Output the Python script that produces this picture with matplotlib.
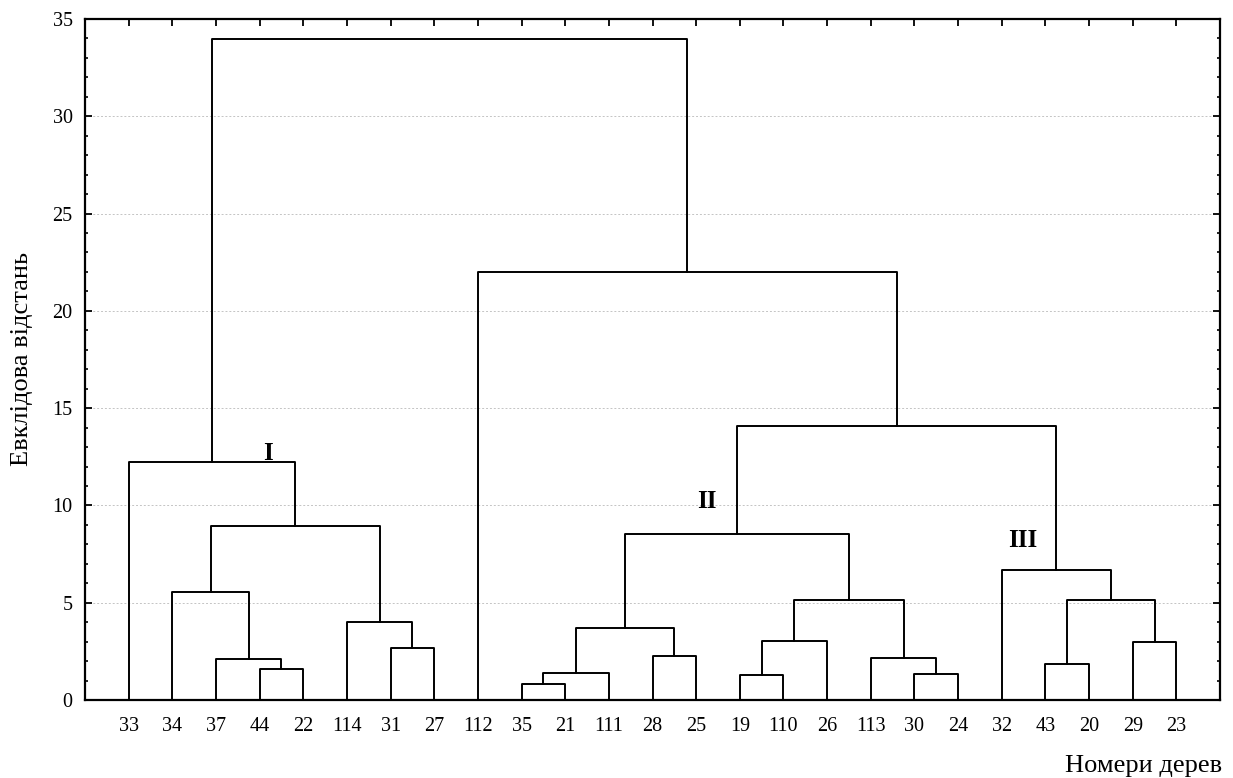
import matplotlib
matplotlib.use("Agg")
import matplotlib.pyplot as plt
from matplotlib.ticker import MultipleLocator

plt.rcParams['font.family'] = ['Liberation Serif', 'DejaVu Serif']

# leaf labels in plotted order
leaves = ["33", "34", "37", "44", "22", "114", "31", "27", "112", "35", "21", "111",
          "28", "25", "19", "110", "26", "113", "30", "24", "32", "43", "20", "29", "23"]

# merges: index < 25 is a leaf, otherwise merge number 25 + k
merge_left = [9, 25, 14, 18, 3, 21, 2, 17, 12, 6, 23, 27,
              26, 5, 30, 36, 1, 20, 37, 41, 0, 43, 8, 45]
merge_right = [10, 11, 15, 19, 4, 22, 29, 28, 13, 7, 24, 16,
               33, 34, 35, 32, 31, 39, 40, 38, 44, 42, 46, 47]
merge_height = [0.82, 1.39, 1.30, 1.35, 1.58, 1.87, 2.11, 2.16, 2.28, 2.67, 2.97, 3.03,
                3.68, 4.01, 5.14, 5.15, 5.57, 6.68, 8.52, 8.94, 12.22, 14.10, 21.98, 33.97]

cluster_names = ["I", "II", "III"]
cluster_x = [4.19, 14.25, 21.48]
cluster_y = [12.67, 10.2, 8.2]


def node_pos(i, xs, ys):
    if i < len(leaves):
        return i + 1, 0.0
    return xs[i - len(leaves)], ys[i - len(leaves)]


def main():
    fig = plt.figure(figsize=(12.33, 7.78), dpi=100)
    ax = fig.add_axes([85 / 1233, 1 - 700 / 778, 1135 / 1233, 681 / 778])

    xs, ys = [], []
    for a, b, h in zip(merge_left, merge_right, merge_height):
        xa, ya = node_pos(a, xs, ys)
        xb, yb = node_pos(b, xs, ys)
        ax.plot([xa, xa, xb, xb], [ya, h, h, yb], color='black', lw=1.4,
                solid_capstyle='projecting', zorder=3)
        xs.append((xa + xb) / 2)
        ys.append(h)

    for name, x, y in zip(cluster_names, cluster_x, cluster_y):
        ax.text(x, y, name, fontsize=18, fontweight='bold', ha='center', va='center', zorder=4)

    ax.set_xlim(0, 26)
    ax.set_ylim(0, 35)
    ax.set_xticks(range(1, len(leaves) + 1))
    ax.set_xticklabels(leaves, fontsize=14.5)
    ax.yaxis.set_major_locator(MultipleLocator(5))
    ax.yaxis.set_minor_locator(MultipleLocator(1))
    ax.tick_params(axis='x', bottom=False, top=True, direction='in', length=5, width=1.3, pad=12)
    ax.tick_params(axis='y', which='major', left=True, right=True, direction='in',
                   length=5, width=1.3, labelsize=14.5, pad=9)
    ax.tick_params(axis='y', which='minor', left=True, right=True, direction='in',
                   length=2, width=1.2)

    for y in range(5, 35, 5):
        ax.axhline(y, color='#c4c4c4', lw=0.7, linestyle=(0, (2, 2)), zorder=1)

    for s in ax.spines.values():
        s.set_linewidth(1.6)

    ax.set_ylabel("Евклідова відстань", fontsize=19, ha='center', va='center')
    ax.yaxis.set_label_coords(-0.0555, 0.5)
    ax.set_xlabel("Номери дерев", fontsize=19, ha='right', va='center')
    ax.xaxis.set_label_coords(1.0018, -0.097)

    plt.savefig("out.png", dpi=100)


if __name__ == '__main__':
    main()
